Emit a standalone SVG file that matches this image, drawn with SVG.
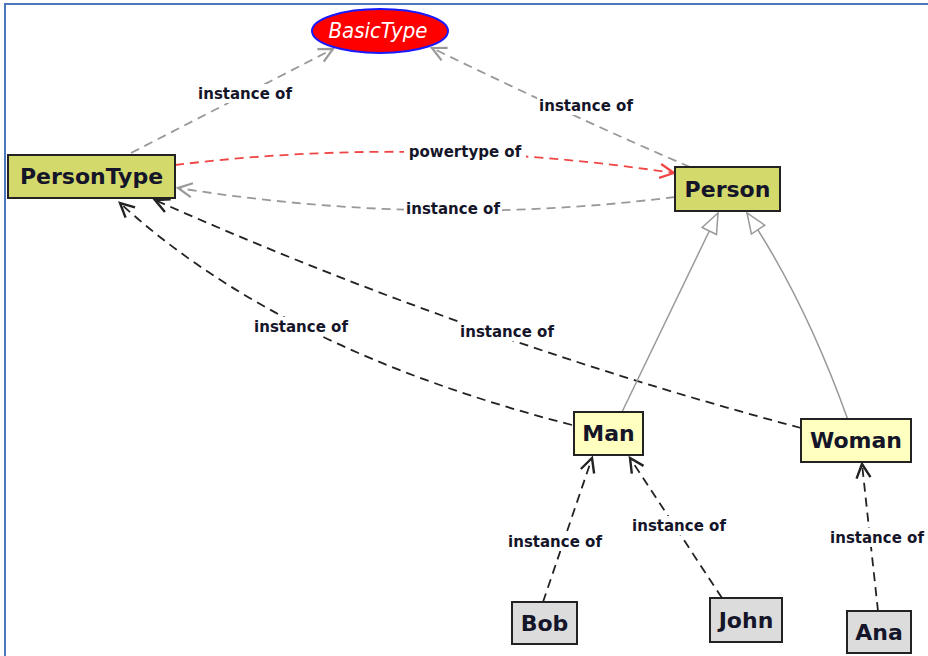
<svg xmlns="http://www.w3.org/2000/svg" width="928" height="656" viewBox="0 0 928 656">
<style>
.frame{fill:none;stroke:#4a78b8;stroke-width:2}
.box{stroke:#222;stroke-width:2}
.type{fill:#d4d96b}
.cls{fill:#ffffc0}
.ind{fill:#dcdcdc}
.nt{font-family:"DejaVu Sans",sans-serif;font-weight:bold;font-size:22px;fill:#15152a;text-anchor:middle}
.lbl{font-family:"DejaVu Sans",sans-serif;font-weight:bold;font-size:15px;fill:#15152a;text-anchor:middle}
.lb{fill:#fff}
.e{fill:none;stroke-width:1.8;stroke-dasharray:9 6}
.g{stroke:#999}
.r{stroke:#f04545}
.k{stroke:#222}
.gen{fill:none;stroke:#999;stroke-width:1.5}
</style>
<defs>
<marker id="ag" markerUnits="userSpaceOnUse" markerWidth="18" markerHeight="18" refX="15" refY="8" orient="auto" viewBox="0 0 18 16"><path d="M1,1 L15,8 L1,15" fill="none" stroke="#999" stroke-width="2.2"/></marker>
<marker id="ar" markerUnits="userSpaceOnUse" markerWidth="18" markerHeight="18" refX="15" refY="8" orient="auto" viewBox="0 0 18 16"><path d="M1,1 L15,8 L1,15" fill="none" stroke="#f04545" stroke-width="2.2"/></marker>
<marker id="ak" markerUnits="userSpaceOnUse" markerWidth="18" markerHeight="18" refX="15" refY="8" orient="auto" viewBox="0 0 18 16"><path d="M1,1 L15,8 L1,15" fill="none" stroke="#222" stroke-width="2.4"/></marker>
<marker id="tri" markerUnits="userSpaceOnUse" markerWidth="24" markerHeight="20" refX="21" refY="9" orient="auto" viewBox="0 0 24 18"><path d="M1,1 L21,9 L1,17 Z" fill="#fff" stroke="#999" stroke-width="1.5"/></marker>
</defs>
<rect width="928" height="656" fill="#fff"/>
<path class="frame" d="M5,656 L5,4 L928,4"/>
<g id="connectors">
<path class="e g" d="M131,153 L333,49" marker-end="url(#ag)"/>
<path class="e g" d="M690,167 Q580,120 432,48" marker-end="url(#ag)"/>
<path class="e r" d="M175,165 Q420,135 674,173" marker-end="url(#ar)"/>
<path class="e g" d="M675,197 Q430,228 178,188" marker-end="url(#ag)"/>
<path class="e k" d="M572,425 Q280,350 120,203" marker-end="url(#ak)"/>
<path class="e k" d="M801,428 Q470,340 155,200" marker-end="url(#ak)"/>
<path class="gen" d="M622,412 L718,213" marker-end="url(#tri)"/>
<path class="gen" d="M848,420 Q805,300 747,213" marker-end="url(#tri)"/>
<path class="e k" d="M543,602 L592,458" marker-end="url(#ak)"/>
<path class="e k" d="M722,598 L630,458" marker-end="url(#ak)"/>
<path class="e k" d="M878,611 L862,464" marker-end="url(#ak)"/>
<g>
<rect class="lb" x="196" y="84" width="98" height="19"/><text class="lbl" x="245" y="99">instance of</text>
<rect class="lb" x="537" y="96" width="98" height="19"/><text class="lbl" x="586" y="111">instance of</text>
<rect class="lb" x="404" y="142" width="122" height="19"/><text class="lbl" x="465" y="157">powertype of</text>
<rect class="lb" x="404" y="199" width="98" height="19"/><text class="lbl" x="453" y="214">instance of</text>
<rect class="lb" x="252" y="317" width="98" height="19"/><text class="lbl" x="301" y="332">instance of</text>
<rect class="lb" x="458" y="322" width="98" height="19"/><text class="lbl" x="507" y="337">instance of</text>
<rect class="lb" x="506" y="532" width="98" height="19"/><text class="lbl" x="555" y="547">instance of</text>
<rect class="lb" x="630" y="516" width="98" height="19"/><text class="lbl" x="679" y="531">instance of</text>
<rect class="lb" x="828" y="528" width="98" height="19"/><text class="lbl" x="877" y="543">instance of</text>
</g>
</g>
<g id="BasicType">
<ellipse cx="380" cy="31" rx="68" ry="22" fill="#ff0000" stroke="#1a1aff" stroke-width="2"/>
<text x="378" y="38" font-family="DejaVu Sans Condensed,DejaVu Sans,sans-serif" font-style="italic" font-size="22" fill="#fff" text-anchor="middle">BasicType</text>
</g>
<g id="PersonType"><rect class="box type" x="8" y="155" width="167" height="43"/><text class="nt" x="91.5" y="184">PersonType</text></g>
<g id="Person"><rect class="box type" x="675" y="167" width="105" height="44"/><text class="nt" x="727.5" y="197">Person</text></g>
<g id="Man"><rect class="box cls" x="574" y="412" width="69" height="43"/><text class="nt" x="608.5" y="441">Man</text></g>
<g id="Woman"><rect class="box cls" x="801" y="419" width="110" height="43"/><text class="nt" x="856" y="448">Woman</text></g>
<g id="Bob"><rect class="box ind" x="512" y="602" width="65" height="42"/><text class="nt" x="544.5" y="631">Bob</text></g>
<g id="John"><rect class="box ind" x="710" y="598" width="72" height="44"/><text class="nt" x="746" y="628">John</text></g>
<g id="Ana"><rect class="box ind" x="847" y="611" width="64" height="42"/><text class="nt" x="879" y="640">Ana</text></g>
</svg>
